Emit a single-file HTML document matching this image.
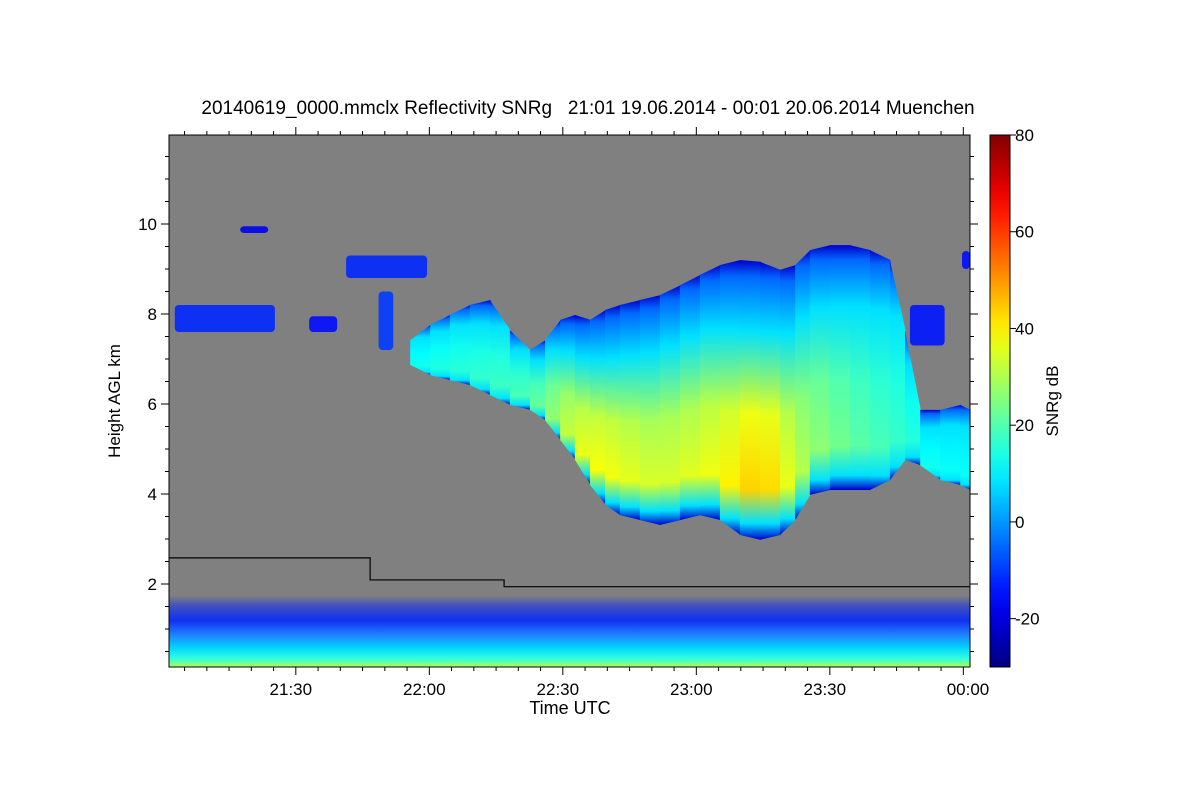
<!DOCTYPE html>
<html><head><meta charset="utf-8"><style>
html,body{margin:0;padding:0;background:#fff;}
svg{display:block;font-family:"Liberation Sans",sans-serif;}
</style></head><body>
<svg id="chart" width="1200" height="800" viewBox="0 0 1200 800">
<defs id="defs"></defs>
<text x="588" y="114" text-anchor="middle" font-size="19">20140619_0000.mmclx Reflectivity SNRg &#160; 21:01 19.06.2014 - 00:01 20.06.2014 Muenchen</text>
<rect x="169" y="135" width="801" height="532" fill="#808080"/>
<g id="marks"></g>
<g id="axes"></g>
<text x="570" y="714" text-anchor="middle" font-size="18">Time UTC</text>
<text transform="translate(120,401) rotate(-90)" text-anchor="middle" font-size="17">Height AGL km</text>
<text transform="translate(1058,401) rotate(-90)" text-anchor="middle" font-size="17">SNRg dB</text>
</svg>
<script>
// minutes after 21:00 UTC
const cloudTimes=[55.7,60.2,64.6,69.1,73.6,78.1,82.6,86.0,89.4,92.7,96.1,99.5,102.8,107.3,111.8,116.3,120.8,125.3,129.8,134.3,138.8,142.2,145.5,150.0,154.5,159.0,163.5,166.9,170.3,174.8,179.3,181.5];
const cloudTop=[7.42,7.76,7.98,8.2,8.31,7.64,7.2,7.42,7.87,7.98,7.87,8.09,8.2,8.31,8.42,8.64,8.87,9.09,9.2,9.16,8.98,9.09,9.42,9.53,9.53,9.42,9.2,7.64,5.87,5.87,5.98,5.87];
const cloudBase=[6.87,6.64,6.53,6.42,6.2,5.98,5.87,5.64,5.2,4.76,4.2,3.76,3.53,3.42,3.31,3.42,3.53,3.42,3.09,2.98,3.09,3.42,3.98,4.09,4.09,4.09,4.31,4.76,4.64,4.31,4.2,4.09];
const cloudPeak=[12,14,15,16,17,18,20,24,30,35,38,38,37,35,34,35,36,38,42,45,40,33,28,25,22,20,18,16,14,12,12,12];
// isolated echoes: start min, end min, bottom km, top km, SNR dB
const patchStart=[2.8,17.5,33.0,41.3,48.6,168.0,179.7];
const patchEnd=[25.3,23.8,39.3,59.5,51.9,175.8,181.5];
const patchBottom=[7.6,9.8,7.6,8.8,7.2,7.3,9.0];
const patchTop=[8.2,9.95,7.95,9.3,8.5,8.2,9.4];
const patchSnr=[-12,-18,-15,-12,-10,-14,-15];
// lower detection threshold line (step)
const threshTimes=[1.5,46.7,46.7,76.8,76.8,181.5];
const threshKm=[2.58,2.58,2.09,2.09,1.94,1.94];
const yTicks=[2,4,6,8,10];
const xTickMin=[30,60,90,120,150,180];
const xTickLabels=["21:30","22:00","22:30","23:00","23:30","00:00"];
const cbTicks=[-20,0,20,40,60,80];

const NS="http://www.w3.org/2000/svg";
const X0=169,X1=970,Y0=135,Y1=667;
const xs=m=>X0+(m-1.5)*4.45;
const ys=k=>674-k*45;
const cbY=v=>667-(v+30)*(532/110);
function jet(v){let t=(v+30)/110;t=Math.max(0,Math.min(1,t));
 const f=x=>Math.max(0,Math.min(1,x));
 const r=f(1.5-Math.abs(4*t-3)),g=f(1.5-Math.abs(4*t-2)),b=f(1.5-Math.abs(4*t-1));
 return `rgb(${Math.round(r*255)},${Math.round(g*255)},${Math.round(b*255)})`;}
function mk(tag,at,parent){const e=document.createElementNS(NS,tag);for(const k in at)e.setAttribute(k,at[k]);parent.appendChild(e);return e;}
const defs=document.getElementById('defs'),marks=document.getElementById('marks'),axes=document.getElementById('axes');

const bg=mk('linearGradient',{id:'gnd',x1:0,y1:0,x2:0,y2:1},defs);
[[0,'#808080'],[0.15,'#4050c0'],[0.35,'#1030f0'],[0.55,'#2080ff'],[0.72,'#00d0ff'],[0.88,'#30ffe0'],[1,'#b0ff50']].forEach(s=>mk('stop',{offset:s[0],'stop-color':s[1]},bg));
const gb=mk('rect',{x:X0,y:ys(1.75),width:X1-X0,height:Y1-ys(1.75),fill:'url(#gnd)'},marks);



for(let i=0;i<cloudTimes.length-1;i++){
 const pk=(cloudPeak[i]+cloudPeak[i+1])/2;
 const g=mk('linearGradient',{id:'cg'+i,x1:0,y1:0,x2:0,y2:1},defs);
 [[0,jet(-22)],[0.06,jet(-5)],[0.25,jet(8)],[0.55,jet(pk*0.85)],[0.82,jet(pk)],[0.94,jet(8)],[1,jet(-22)]].forEach(s=>mk('stop',{offset:s[0],'stop-color':s[1]},g));
 const x1=xs(cloudTimes[i]),x2=xs(cloudTimes[i+1])+0.6;
 const p=mk('polygon',{points:`${x1},${ys(cloudTop[i])} ${x2},${ys(cloudTop[i+1])} ${x2},${ys(cloudBase[i+1])} ${x1},${ys(cloudBase[i])}`,fill:`url(#cg${i})`},marks);
 
 
}
for(let i=0;i<patchStart.length;i++){
 const r=mk('rect',{x:xs(patchStart[i]),y:ys(patchTop[i]),width:xs(patchEnd[i])-xs(patchStart[i]),height:ys(patchBottom[i])-ys(patchTop[i]),fill:jet(patchSnr[i]),rx:4,opacity:0.9},marks);
 
 
}
const tl=mk('polyline',{points:threshTimes.map((t,i)=>`${xs(t)},${ys(threshKm[i])}`).join(' '),fill:'none',stroke:'#000','stroke-width':1.2},marks);



const fr=mk('rect',{x:X0,y:Y0,width:X1-X0,height:Y1-Y0,fill:'none',stroke:'#000','stroke-width':1},axes);


for(let k=0.5;k<12;k+=0.5){const y=ys(k);const L=(Math.abs(k%2)<1e-6)?8:4;
 mk('line',{x1:X0-L,y1:y,x2:X0,y2:y,stroke:'#000'},axes);mk('line',{x1:X1,y1:y,x2:X1+L,y2:y,stroke:'#000'},axes);}
yTicks.forEach(k=>{const t=mk('text',{x:X0-12,y:ys(k)+6,'text-anchor':'end','font-size':17},axes);t.textContent=k;
 
 });
for(let m=5;m<=180;m+=5){const x=xs(m);const L=(m%30===0)?8:4;
 mk('line',{x1:x,y1:Y1,x2:x,y2:Y1+L,stroke:'#000'},axes);mk('line',{x1:x,y1:Y0-L,x2:x,y2:Y0,stroke:'#000'},axes);}
xTickMin.forEach((m,i)=>{const t=mk('text',{x:m===180?968:xs(m)-5,y:695,'text-anchor':'middle','font-size':17},axes);t.textContent=xTickLabels[i];
 
 });
const cg=mk('linearGradient',{id:'cbg',x1:0,y1:1,x2:0,y2:0},defs);
for(let i=0;i<=20;i++){mk('stop',{offset:i/20,'stop-color':jet(-30+110*i/20)},cg);}
const cb=mk('rect',{x:990,y:135,width:20,height:532,fill:'url(#cbg)',stroke:'#000'},axes);


cbTicks.forEach(v=>{mk('line',{x1:1010,y1:cbY(v),x2:1016,y2:cbY(v),stroke:'#000'},axes);
 const t=mk('text',{x:1015,y:cbY(v)+6,'font-size':17},axes);t.textContent=v;
 
 });
</script>
</body></html>
